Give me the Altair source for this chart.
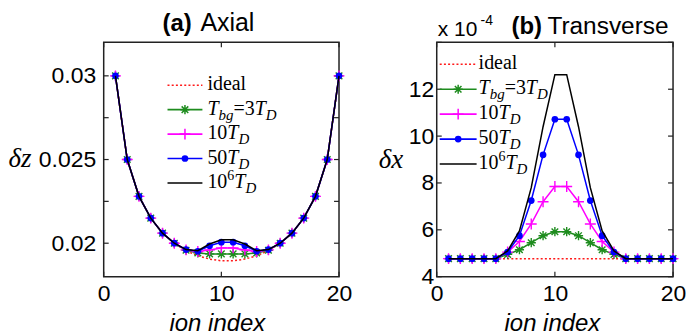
import altair as alt
import pandas as pd

# ---------------------------------------------------------------- data
ions = list(range(1, 21))
series_keys = ["ideal", "3TD", "10TD", "50TD", "1e6TD"]

# (a) axial spacing  dz
axial = {
    "ideal": [0.0300, 0.0250, 0.0228, 0.0215, 0.0206, 0.0200, 0.01955, 0.01925, 0.01905, 0.01895,
              0.01895, 0.01905, 0.01925, 0.01955, 0.0200, 0.0206, 0.0215, 0.0228, 0.0250, 0.0300],
    "3TD": [0.0300, 0.0250, 0.0228, 0.0215, 0.0206, 0.0200, 0.01958, 0.01942, 0.01936, 0.01936,
            0.01936, 0.01936, 0.01942, 0.01958, 0.0200, 0.0206, 0.0215, 0.0228, 0.0250, 0.0300],
    "10TD": [0.0300, 0.0250, 0.0228, 0.0215, 0.0206, 0.0200, 0.01960, 0.01950, 0.01960, 0.01972,
             0.01972, 0.01960, 0.01950, 0.01960, 0.0200, 0.0206, 0.0215, 0.0228, 0.0250, 0.0300],
    "50TD": [0.0300, 0.0250, 0.0228, 0.0215, 0.0206, 0.0200, 0.01962, 0.01952, 0.01985, 0.02006,
             0.02006, 0.01985, 0.01952, 0.01962, 0.0200, 0.0206, 0.0215, 0.0228, 0.0250, 0.0300],
    "1e6TD": [0.0300, 0.0250, 0.0228, 0.0215, 0.0206, 0.0200, 0.01962, 0.01955, 0.01995, 0.02020,
              0.02020, 0.01995, 0.01955, 0.01962, 0.0200, 0.0206, 0.0215, 0.0228, 0.0250, 0.0300],
}

# (b) transverse spacing  dx  (units of 1e-4)
transverse = {
    "ideal": [4.77] * 20,
    "3TD": [4.77, 4.77, 4.77, 4.77, 4.77, 4.95, 5.15, 5.45, 5.75, 5.92,
            5.92, 5.75, 5.45, 5.15, 4.95, 4.77, 4.77, 4.77, 4.77, 4.77],
    "10TD": [4.77, 4.77, 4.77, 4.77, 4.77, 5.05, 5.50, 6.25, 7.20, 7.85,
             7.85, 7.20, 6.25, 5.50, 5.05, 4.77, 4.77, 4.77, 4.77, 4.77],
    "50TD": [4.77, 4.77, 4.77, 4.77, 4.77, 5.05, 5.75, 7.25, 9.20, 10.72,
             10.72, 9.20, 7.25, 5.75, 5.05, 4.77, 4.77, 4.77, 4.77, 4.77],
    "1e6TD": [4.77, 4.77, 4.77, 4.77, 4.77, 5.10, 5.95, 7.80, 10.40, 12.62,
              12.62, 10.40, 7.80, 5.95, 5.10, 4.77, 4.77, 4.77, 4.77, 4.77],
}

x_tick_labels = [0, 10, 20]
axial_y_labels = [0.02, 0.025, 0.03]
axial_y_ticks = [0.02, 0.0225, 0.025, 0.0275, 0.03]
trans_y_labels = [4, 6, 8, 10, 12]
trans_y_ticks = [4, 6, 8, 10, 12, 14]

# legend label pieces: (text, style)  r=roman, i=italic, sub=subscript, sup=superscript
legend_labels = [
    [("ideal", "r")],
    [("T", "i"), ("bg", "sub"), ("=3", "r"), ("T", "i"), ("D", "sub")],
    [("10", "r"), ("T", "i"), ("D", "sub")],
    [("50", "r"), ("T", "i"), ("D", "sub")],
    [("10", "r"), ("6", "sup"), ("T", "i"), ("D", "sub")],
]

# ---------------------------------------------------------------- styles
ASTERISK = "M-1,0L1,0M0,-1L0,1M-0.72,-0.72L0.72,0.72M-0.72,0.72L0.72,-0.72"
PLUS = "M-1,0L1,0M0,-1L0,1"
STYLE = {
    "ideal": dict(color="#ff1a1a", dash=[2, 2.2], shape=None),
    "3TD": dict(color="#1e8c1e", dash=None, shape=ASTERISK, size=85, filled=False),
    "10TD": dict(color="#ff00ff", dash=None, shape=PLUS, size=120, filled=False),
    "50TD": dict(color="#0000ff", dash=None, shape="circle", size=45, filled=True),
    "1e6TD": dict(color="#000000", dash=None, shape=None),
}

SANS = "Liberation Sans"
SERIF = "Liberation Serif"
ONE = pd.DataFrame({"k": [0]})

EM = {"regular": {"i": 0.278, "d": 0.5, "e": 0.444, "a": 0.444, "l": 0.278, "=": 0.564},
      "italic": {"T": 0.556, "b": 0.5, "g": 0.5, "D": 0.722}}


def text_at(s, x, y, size, font=SERIF, italic=False, bold=False, align="left", baseline="alphabetic"):
    return alt.Chart(ONE).mark_text(
        text=s, fontSize=size, font=font, align=align, baseline=baseline, color="black",
        fontStyle="italic" if italic else "normal", fontWeight="bold" if bold else "normal",
    ).encode(x=alt.value(x), y=alt.value(y))


def rich_text(pieces, x0, base):
    layers = []
    x = x0
    for s, st in pieces:
        if st == "r":
            size, dy, ital = 20, 0, False
        elif st == "i":
            size, dy, ital = 20, 0, True
        elif st == "sub":
            size, dy, ital = 15, 5, True
        else:
            size, dy, ital = 14, -8, False
        layers.append(text_at(s, x, base + dy, size, italic=ital))
        table = EM["italic"] if ital else EM["regular"]
        x += sum(table.get(c, 0.5) for c in s) * size
    return layers


def legend(x_line0, x_line1, x_text, y0, dy):
    layers = []
    for k, (key, pieces) in enumerate(zip(series_keys, legend_labels)):
        st = STYLE[key]
        yy = y0 + dy * k
        rule_kw = dict(color=st["color"], strokeWidth=1.6)
        if st["dash"]:
            rule_kw["strokeDash"] = st["dash"]
        layers.append(alt.Chart(ONE).mark_rule(**rule_kw).encode(
            x=alt.value(x_line0), x2=alt.value(x_line1), y=alt.value(yy)))
        if st["shape"]:
            layers.append(alt.Chart(ONE).mark_point(
                shape=st["shape"], size=st["size"], filled=st["filled"], color=st["color"],
                strokeWidth=1.5, opacity=1).encode(
                x=alt.value((x_line0 + x_line1) / 2), y=alt.value(yy)))
        layers += rich_text(pieces, x_text, yy + 5)
    return layers


def panel(values, y_dom, y_labels, y_ticks, y_fmt, w, h, y_pad, legend_args, extra):
    xs = alt.Scale(domain=[0, 20], nice=False, zero=False)
    ys = alt.Scale(domain=y_dom, nice=False, zero=False)
    ax_x = alt.Axis(values=x_tick_labels, labelFontSize=23, labelFont=SANS, labelColor="black",
                    domain=False, ticks=False, grid=False, title=None, labelPadding=6,
                    labelFlush=False)
    ax_y = alt.Axis(values=y_labels, format=y_fmt, labelFontSize=23, labelFont=SANS,
                    labelColor="black", domain=False, ticks=False, grid=False, title=None,
                    labelPadding=y_pad, labelFlush=False)

    layers = []
    # inward box ticks
    xt = pd.DataFrame({"t": x_tick_labels})
    yt = pd.DataFrame({"t": y_ticks})
    tk = dict(color="#222", strokeWidth=1.2)
    layers.append(alt.Chart(xt).mark_rule(**tk).encode(
        x=alt.X("t:Q", scale=xs, axis=ax_x), y=alt.value(h), y2=alt.value(h - 5)))
    layers.append(alt.Chart(xt).mark_rule(**tk).encode(
        x=alt.X("t:Q", scale=xs, axis=ax_x), y=alt.value(0), y2=alt.value(5)))
    layers.append(alt.Chart(yt).mark_rule(**tk).encode(
        y=alt.Y("t:Q", scale=ys, axis=ax_y), x=alt.value(0), x2=alt.value(5)))
    layers.append(alt.Chart(yt).mark_rule(**tk).encode(
        y=alt.Y("t:Q", scale=ys, axis=ax_y), x=alt.value(w - 5), x2=alt.value(w)))

    for key in series_keys:
        st = STYLE[key]
        df = pd.DataFrame({"ion": ions, "v": values[key]})
        line_kw = dict(color=st["color"], strokeWidth=1.5)
        if st["dash"]:
            line_kw["strokeDash"] = st["dash"]
        enc = dict(x=alt.X("ion:Q", scale=xs, axis=ax_x), y=alt.Y("v:Q", scale=ys, axis=ax_y))
        layers.append(alt.Chart(df).mark_line(**line_kw).encode(**enc))
        if st["shape"]:
            layers.append(alt.Chart(df).mark_point(
                shape=st["shape"], size=st["size"], filled=st["filled"], color=st["color"],
                strokeWidth=1.4, opacity=1).encode(**enc))

    layers += legend(*legend_args)
    layers += extra
    return alt.layer(*layers).properties(width=w, height=h)


def anchor(x, y):
    return alt.Chart(ONE).mark_rule(opacity=0, strokeOpacity=0).encode(
        x=alt.value(x), x2=alt.value(x), y=alt.value(y), y2=alt.value(y))


W1, H1 = 236, 235
W2, H2 = 237, 235

left_extra = [
    text_at("(a)", 59, -11, 24, font=SANS, bold=True),
    text_at("Axial", 97, -11, 25, font=SANS),
    text_at("δz", -84, 125, 27, italic=True, align="center"),
    text_at("ion index", 114, H1 + 54, 24, font=SANS, italic=True, align="center"),
    anchor(-103, -41),
]
right_extra = [
    text_at("(b)", 75, -8, 24, font=SANS, bold=True),
    text_at("Transverse", 111, -8, 24.5, font=SANS),
    text_at("x 10", 1, -6, 21, font=SANS),
    text_at("-4", 44, -17, 14, font=SANS),
    text_at("δx", -46, 126, 27, italic=True, align="center"),
    text_at("ion index", 116, H2 + 54, 24, font=SANS, italic=True, align="center"),
    anchor(250, 294),
]

left = panel(axial, [0.018, 0.032], axial_y_labels, axial_y_ticks, ".3~f", W1, H1, 8,
             (64, 99, 104, 43, 24.5), left_extra)
right = panel(transverse, [4, 14], trans_y_labels, trans_y_ticks, "d", W2, H2, 3,
              (3, 40, 42, 22, 25), right_extra)

chart = alt.hconcat(left, right, spacing=98, bounds="flush").properties(
    padding=0
).configure_view(stroke="#222", strokeWidth=1.5)

chart.save("out.html", embed_options={"renderer": "svg", "actions": False})
